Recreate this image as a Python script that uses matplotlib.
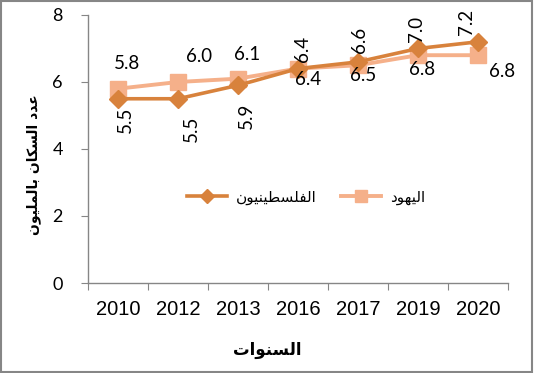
import matplotlib
matplotlib.use("Agg")
import matplotlib.pyplot as plt
from matplotlib.patches import Rectangle

# ---- data ----
years = ["2010", "2012", "2013", "2016", "2017", "2019", "2020"]
palestinians = [5.5, 5.5, 5.9, 6.4, 6.6, 7.0, 7.2]
jews = [5.8, 6.0, 6.1, 6.4, 6.5, 6.8, 6.8]
name_pal = "الفلسطينيون"
name_jew = "اليهود"
ylabel_text = "عدد السكان بالمليون"
xlabel_text = "السنوات"

# ---- simple Arabic shaping (presentation forms) + RTL ordering ----
FORMS = {
    'ا': ('\uFE8D', '\uFE8E', None, None),
    'ب': ('\uFE8F', '\uFE90', '\uFE91', '\uFE92'),
    'ت': ('\uFE95', '\uFE96', '\uFE97', '\uFE98'),
    'د': ('\uFEA9', '\uFEAA', None, None),
    'س': ('\uFEB1', '\uFEB2', '\uFEB3', '\uFEB4'),
    'ط': ('\uFEC1', '\uFEC2', '\uFEC3', '\uFEC4'),
    'ع': ('\uFEC9', '\uFECA', '\uFECB', '\uFECC'),
    'ف': ('\uFED1', '\uFED2', '\uFED3', '\uFED4'),
    'ك': ('\uFED9', '\uFEDA', '\uFEDB', '\uFEDC'),
    'ل': ('\uFEDD', '\uFEDE', '\uFEDF', '\uFEE0'),
    'م': ('\uFEE1', '\uFEE2', '\uFEE3', '\uFEE4'),
    'ن': ('\uFEE5', '\uFEE6', '\uFEE7', '\uFEE8'),
    'ه': ('\uFEE9', '\uFEEA', '\uFEEB', '\uFEEC'),
    'و': ('\uFEED', '\uFEEE', None, None),
    'ي': ('\uFEF1', '\uFEF2', '\uFEF3', '\uFEF4'),
}


def shape(text):
    out = []
    n = len(text)
    for i, c in enumerate(text):
        if c not in FORMS:
            out.append(c)
            continue
        prev_j = i > 0 and text[i - 1] in FORMS and FORMS[text[i - 1]][2] is not None
        next_j = (i < n - 1 and text[i + 1] in FORMS and FORMS[c][2] is not None)
        iso, fin, ini, med = FORMS[c]
        if prev_j and next_j:
            out.append(med)
        elif prev_j:
            out.append(fin)
        elif next_j:
            out.append(ini)
        else:
            out.append(iso)
    return "".join(out)[::-1]


AR_FONT = ["DejaVu Sans"]
DARK = "#D8823C"
LIGHT = "#F5B08A"
GRAY = "#868686"

fig = plt.figure(figsize=(5.34, 3.73), dpi=100)
ax = fig.add_axes([88 / 534, 1 - 283 / 373, 420 / 534, 268 / 373])

x = list(range(len(years)))
ax.plot(x, palestinians, color=DARK, lw=2.6, marker="D", ms=9.5,
        mec=DARK, mfc=DARK, label=shape(name_pal), zorder=3)
ax.plot(x, jews, color=LIGHT, lw=2.8, marker="s", ms=11.5,
        mec=LIGHT, mfc=LIGHT, label=shape(name_jew), zorder=2)

ax.set_xlim(-0.5, len(years) - 0.5)
ax.set_ylim(0, 8)
ax.set_yticks([0, 2, 4, 6, 8])
ax.set_xticks([i - 0.5 for i in range(len(years) + 1)])
ax.set_xticklabels([])
ax.set_xticks(x, minor=True)
ax.set_xticklabels(years, minor=True, fontfamily="Liberation Sans", fontsize=14.5)
ax.tick_params(axis="x", which="major", length=5, color=GRAY, direction="out")
ax.tick_params(axis="x", which="minor", length=0, pad=12)
ax.tick_params(axis="y", length=5, color=GRAY, pad=13, labelsize=13)
for lbl in ax.get_yticklabels():
    lbl.set_fontfamily("Lato")

for s in ["top", "right"]:
    ax.spines[s].set_visible(False)
for s in ["left", "bottom"]:
    ax.spines[s].set_color(GRAY)
    ax.spines[s].set_linewidth(1.0)

# data labels (offsets in points)
pal_off = [(5, -15), (10, -22), (6, -22), (3, 14), (1, 16), (-1, 14), (-8, 14)]
for i, v in enumerate(palestinians):
    dx, dy = pal_off[i]
    ax.annotate(f"{v:.1f}", (x[i], v), xytext=(dx, dy), textcoords="offset points",
                rotation=90, ha="center", va="center", fontsize=13.5,
                fontfamily="Lato", zorder=5)
jew_off = [(6.5, 18.5), (15, 18), (6.5, 17.7), (7, -7.5), (3.5, -7.7), (3, -10), (17, -11.4)]
for i, v in enumerate(jews):
    dx, dy = jew_off[i]
    ax.annotate(f"{v:.1f}", (x[i], v), xytext=(dx, dy), textcoords="offset points",
                ha="center", va="center", fontsize=13.5, fontfamily="Lato", zorder=5)

leg = ax.legend(loc="center", bbox_to_anchor=(0.52, (283 - 197) / 268), ncol=2,
                frameon=False, prop={"family": AR_FONT, "size": 11},
                handlelength=2.6, columnspacing=1.6, handletextpad=0.6,
                markerscale=0.75)

fig.text(34 / 534, 1 - 165 / 373, shape(ylabel_text), rotation=90, ha="center",
         va="center", fontsize=10, fontweight="bold", fontfamily=AR_FONT)
fig.text(267 / 534, 1 - 350 / 373, shape(xlabel_text), ha="center",
         va="center", fontsize=12, fontweight="bold", fontfamily=AR_FONT)

fig.patches.append(Rectangle((0.002, 0.003), 0.995, 0.994, transform=fig.transFigure,
                             fill=False, edgecolor=GRAY, lw=1.5))

fig.savefig("out.png", dpi=100)
